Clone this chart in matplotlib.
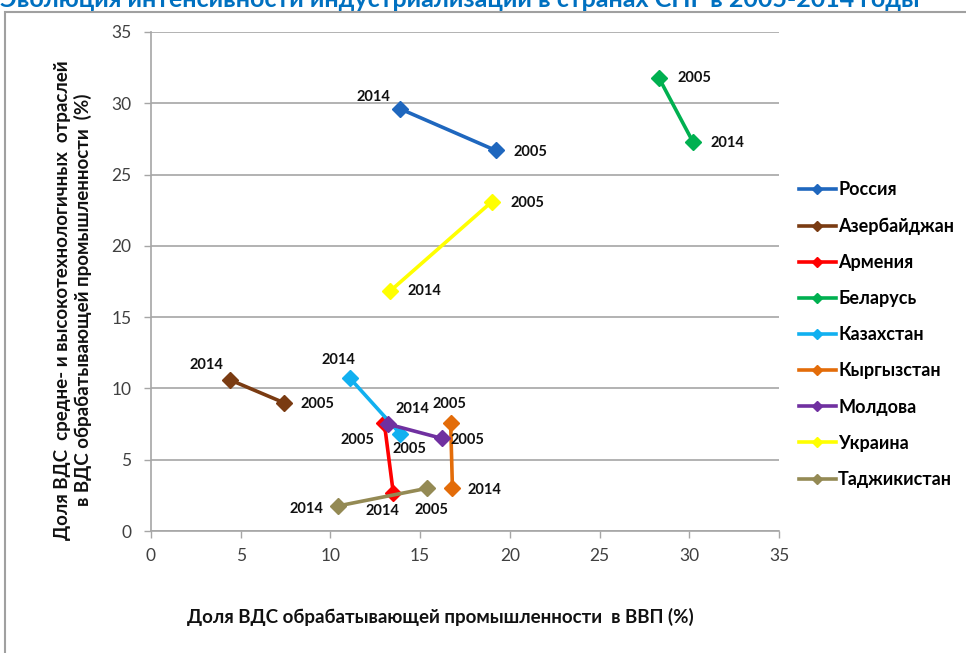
import matplotlib.pyplot as plt
from matplotlib.patches import Rectangle

plt.rcParams['font.family'] = ['Lato', 'Open Sans', 'DejaVu Sans']

# Countries and their (x, y) values for 2005 and 2014
countries = ['Россия', 'Азербайджан', 'Армения', 'Беларусь', 'Казахстан',
             'Кыргызстан', 'Молдова', 'Украина', 'Таджикистан']
x_2005 = [19.2, 7.4, 13.0, 28.3, 13.9, 16.7, 16.2, 19.0, 15.4]
y_2005 = [26.7, 9.0, 7.6, 31.8, 6.8, 7.6, 6.5, 23.1, 3.0]
x_2014 = [13.9, 4.4, 13.5, 30.2, 11.1, 16.8, 13.2, 13.3, 10.4]
y_2014 = [29.6, 10.6, 2.7, 27.3, 10.7, 3.0, 7.5, 16.8, 1.75]

colors = ['#1F67BE', '#7A3B12', '#FF0000', '#00B050', '#11B0F0',
          '#E36C09', '#7030A0', '#FFFF00', '#948A54']

# label offsets in pixels: (2005 label), (2014 label)
off_2005 = [(35, -2), (34, -1), (-27, -17), (36, 0), (9, -15),
            (-1, 19), (26, -2), (36, -1), (4, -22)]
off_2014 = [(-27, 12), (-24, 15), (-11, -18), (35, -1), (-12, 18),
            (32, -2), (25, 15), (35, 0), (-31, -3)]

fig = plt.figure(figsize=(9.66, 6.53), dpi=100)
ax = fig.add_axes((151/966, 1-531/653, 628/966, 499/653))

for i, name in enumerate(countries):
    ax.plot([x_2014[i], x_2005[i]], [y_2014[i], y_2005[i]], '-D',
            color=colors[i], lw=2.6, markersize=8.5, label=name)
    ax.annotate('2005', (x_2005[i], y_2005[i]), xytext=off_2005[i],
                textcoords='offset pixels', ha='center', va='center',
                fontsize=10.5, fontweight='bold', color='#111111')
    ax.annotate('2014', (x_2014[i], y_2014[i]), xytext=off_2014[i],
                textcoords='offset pixels', ha='center', va='center',
                fontsize=10.5, fontweight='bold', color='#111111')

ax.set_xlim(0, 35)
ax.set_ylim(0, 35)
ax.set_xticks(range(0, 36, 5))
ax.set_yticks(range(0, 36, 5))
ax.grid(axis='y', color='#A6A6A6', lw=1.2)
ax.set_axisbelow(True)
for s in ['top', 'right']:
    ax.spines[s].set_visible(False)
for s in ['left', 'bottom']:
    ax.spines[s].set_color('#A6A6A6')
    ax.spines[s].set_linewidth(1.2)
ax.tick_params(colors='#A6A6A6', labelcolor='#404040', labelsize=12.5,
               length=5, width=1.0)
ax.tick_params(axis='x', pad=7)
ax.tick_params(axis='y', pad=9)

fig.legend(loc='upper left', bbox_to_anchor=(794/966, 1-176/653),
           frameon=False, prop={'weight': 'bold', 'size': 13},
           handlelength=2.0, handletextpad=0.15, labelspacing=1.06,
           markerscale=0.65, borderaxespad=0, borderpad=0.3)

fig.text(73/966, 1-300/653,
         'Доля ВДС  средне- и высокотехнологичных  отраслей\n'
         'в ВДС обрабатывающей промышленности  (%)',
         rotation=90, ha='center', va='center', fontsize=13.5,
         fontweight='bold', color='#111111', linespacing=1.25)
fig.text(440/966, 1-617/653,
         'Доля ВДС обрабатывающей промышленности  в ВВП (%)',
         ha='center', va='center', fontsize=13.5, fontweight='bold',
         color='#111111')

# title partly cut at the top edge, with a frame below it
fig.text(0.0, 1+1/653, 'Эволюция интенсивности индустриализации в странах СНГ в 2005-2014 годы',
         ha='left', va='center', fontsize=18, fontweight='bold', color='#0070C0')
fig.patches.append(Rectangle((5/966, -0.05), 1.1, 1-12/653 + 0.05,
                             transform=fig.transFigure, fill=False,
                             edgecolor='#A0A0A0', lw=1.5))

fig.savefig('out.png', dpi=100)
